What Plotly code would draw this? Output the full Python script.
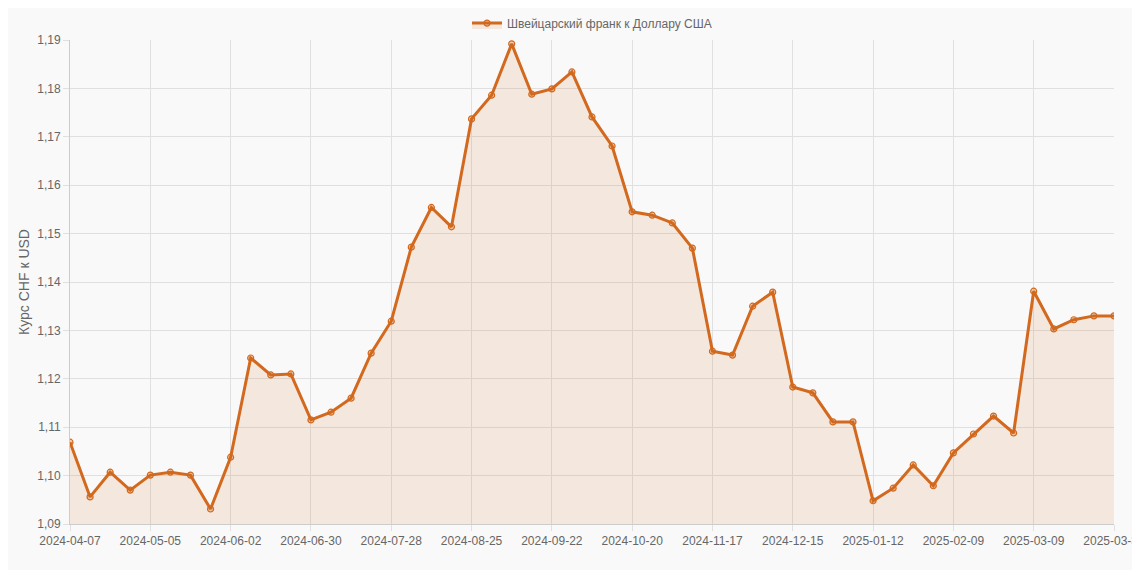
import plotly.graph_objects as go
import datetime as dt

start = dt.date(2024, 4, 7)
dates = [(start + dt.timedelta(weeks=i)).isoformat() for i in range(52)] + ["2025-03-31"]
rates = [1.1069, 1.0956, 1.1007, 1.0970, 1.1001, 1.1007, 1.1001, 1.0931, 1.1038, 1.1243,
         1.1208, 1.1210, 1.1115, 1.1131, 1.1160, 1.1253, 1.1319, 1.1472, 1.1554, 1.1514,
         1.1737, 1.1786, 1.1892, 1.1788, 1.1799, 1.1834, 1.1741, 1.1681, 1.1545, 1.1538,
         1.1522, 1.1470, 1.1257, 1.1249, 1.1350, 1.1379, 1.1183, 1.1171, 1.1111, 1.1111,
         1.0948, 1.0974, 1.1022, 1.0979, 1.1047, 1.1086, 1.1123, 1.1088, 1.1381, 1.1303,
         1.1322, 1.1330, 1.1330]
series_name = "Швейцарский франк к Доллару США"
y_ticks = [1.09 + 0.01 * i for i in range(11)]
tick_dates = dates[::4] + [dates[-1]]

fig = go.Figure(go.Scatter(
    x=dates, y=rates, name=series_name, mode="lines+markers",
    line=dict(color="#D2691E", width=3),
    marker=dict(size=6, color="rgba(210,105,30,0.3)", line=dict(color="#D2691E", width=1.2)),
    fill="tozeroy", fillcolor="rgba(210,105,30,0.12)",
))
fig.update_layout(
    width=1140, height=570, paper_bgcolor="#f9f9f9", plot_bgcolor="#f9f9f9",
    margin=dict(l=62, r=34, t=32, b=54, autoexpand=False),
    font=dict(family="Liberation Sans, Arial", size=12, color="#666"),
    showlegend=True,
    legend=dict(orientation="h", x=0.5, xanchor="center", y=1.005, yanchor="bottom",
                font=dict(size=12, color="#666")),
    xaxis=dict(type="category", tickmode="array", tickvals=tick_dates, ticktext=tick_dates,
               showgrid=True, gridcolor="#e0e0e0", tickangle=0, range=[0, len(dates) - 1],
               ticks="outside", ticklen=6, tickcolor="#e0e0e0", linecolor="#ccc",
               automargin=False),
    yaxis=dict(range=[1.09, 1.19], tickvals=y_ticks,
               ticktext=[f"{v:.2f}".replace(".", ",") for v in y_ticks],
               showgrid=True, gridcolor="#e0e0e0", zeroline=False,
               title=dict(text="Курс CHF к USD", standoff=4),
               ticks="outside", ticklen=6, tickcolor="#e0e0e0", linecolor="#ccc",
               automargin=False),
)
fig.write_html("out.html")
